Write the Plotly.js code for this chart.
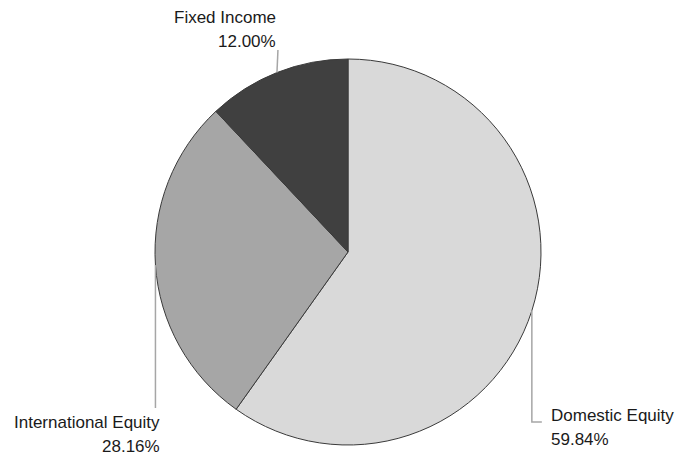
<!DOCTYPE html>
<html>
<head>
<meta charset="utf-8">
<script src="https://cdn.plot.ly/plotly-3.0.1.min.js"></script>
<style>html,body{margin:0;padding:0;background:#fff;}#chart{width:697px;height:457px;}</style>
</head>
<body>
<div id="chart"></div>
<script>
const labels = ["Domestic Equity", "International Equity", "Fixed Income"];
const values = [59.84, 28.16, 12.00];
const colors = ["#d9d9d9", "#a6a6a6", "#404040"];

const W = 697, H = 457;
const domX = [155 / W, 541 / W];
const domY = [1 - 445 / H, 1 - 59 / H];
const FONT = '"Liberation Sans", Arial, sans-serif';

// pie geometry in pixels
const cxPx = (domX[0] + domX[1]) / 2 * W;
const cyPx = (1 - (domY[0] + domY[1]) / 2) * H;
const rPx = Math.min((domX[1] - domX[0]) * W, (domY[1] - domY[0]) * H) / 2;
const total = values.reduce((a, b) => a + b, 0);
function px2paper(x, y) { return [x / W, 1 - y / H]; }

// slice midpoint on edge (clockwise from 12 o'clock)
const mids = [];
let acc = 0;
values.forEach(v => {
  const a = (acc + v / 2) / total * 2 * Math.PI;
  mids.push([cxPx + rPx * Math.sin(a), cyPx - rPx * Math.cos(a)]);
  acc += v;
});

const lineStyle = {color: "#a6a6a6", width: 1.5};
const shapes = [];
{
  const [x, y] = mids[0];
  const p0 = px2paper(x, y), p1 = px2paper(x, 422), p2 = px2paper(x + 10, 422);
  shapes.push({type: "path", xref: "paper", yref: "paper",
    path: `M ${p0[0]} ${p0[1]} L ${p1[0]} ${p1[1]} L ${p2[0]} ${p2[1]}`, line: lineStyle});
}
{
  const [x, y] = mids[1];
  const p0 = px2paper(x, y), p1 = px2paper(x, 408);
  shapes.push({type: "line", xref: "paper", yref: "paper", x0: p0[0], y0: p0[1], x1: p1[0], y1: p1[1], line: lineStyle});
}
{
  const [x, y] = mids[2];
  const p0 = px2paper(x, y), p1 = px2paper(x + 1, 50);
  shapes.push({type: "line", xref: "paper", yref: "paper", x0: p0[0], y0: p0[1], x1: p1[0], y1: p1[1], line: lineStyle});
}

const pct = values.map(v => v.toFixed(2) + "%");
const fnt = {family: FONT, size: 17, color: "#1a1a1a"};
function ann(text, xPx, yBasePx, xanchor) {
  return {text: text, xref: "paper", yref: "paper", x: xPx / W, y: 1 - yBasePx / H,
    xanchor: xanchor, yanchor: "bottom", showarrow: false, font: fnt, borderpad: 0};
}
const annotations = [
  ann(labels[0], 550, 426, "left"), ann(pct[0], 550, 450, "left"),
  ann(labels[1], 161, 433, "right"), ann(pct[1], 161, 457, "right"),
  ann(labels[2], 277, 28, "right"), ann(pct[2], 277, 52, "right")
];

const trace = {
  type: "pie", labels: labels, values: values, sort: false, direction: "clockwise", rotation: 0,
  marker: {colors: colors, line: {color: "#3a3a3a", width: 1}},
  textinfo: "none", hoverinfo: "none", showlegend: false,
  domain: {x: domX, y: domY}
};

Plotly.newPlot("chart", [trace], {
  width: W, height: H, margin: {l: 0, r: 0, t: 0, b: 0},
  paper_bgcolor: "#fff", plot_bgcolor: "#fff",
  shapes: shapes, annotations: annotations, showlegend: false
}, {staticPlot: true});
</script>
</body>
</html>
